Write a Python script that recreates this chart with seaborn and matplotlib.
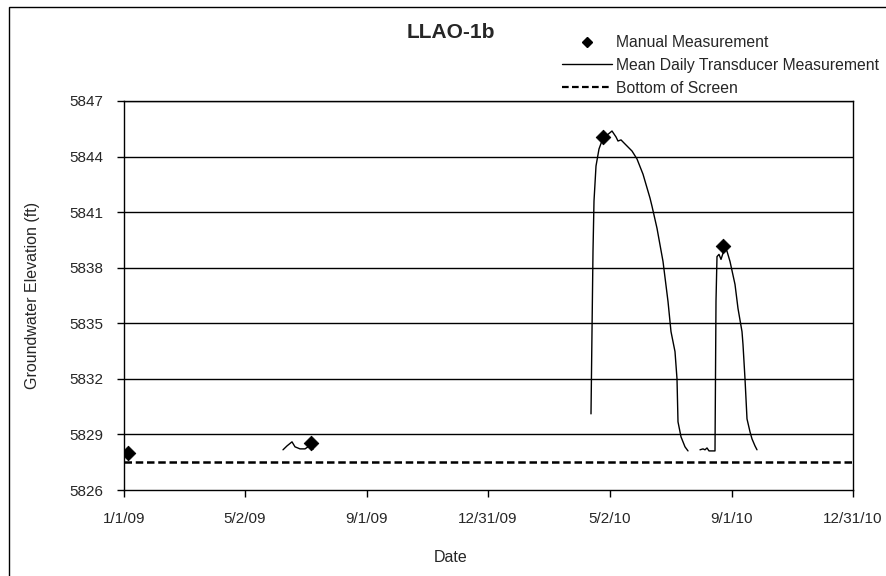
import matplotlib
matplotlib.use("Agg")
import matplotlib.pyplot as plt
import seaborn as sns
import pandas as pd
from matplotlib.lines import Line2D
from matplotlib.patches import Rectangle

# ---------------- data ----------------
manual_dates = ["2009-01-05", "2009-07-07", "2010-04-25", "2010-08-23"]
manual_vals = [5828.0, 5828.55, 5845.05, 5839.15]

seg1_dates = ["2009-06-09", "2009-06-13", "2009-06-18", "2009-06-21", "2009-06-26",
              "2009-07-01", "2009-07-04", "2009-07-07", "2009-07-09"]
seg1_vals = [5828.17, 5828.38, 5828.6, 5828.33, 5828.22, 5828.22, 5828.33, 5828.54, 5828.2]

seg2_dates = ["2010-04-13", "2010-04-14", "2010-04-15", "2010-04-16", "2010-04-18",
              "2010-04-21", "2010-04-25", "2010-04-30", "2010-05-04", "2010-05-08",
              "2010-05-10", "2010-05-13", "2010-05-17", "2010-05-24", "2010-05-29",
              "2010-06-04", "2010-06-11", "2010-06-13", "2010-06-18", "2010-06-24",
              "2010-06-29", "2010-07-02", "2010-07-06", "2010-07-08", "2010-07-09",
              "2010-07-12", "2010-07-16", "2010-07-19"]
seg2_vals = [5830.11, 5834.55, 5838.89, 5841.6, 5843.49, 5844.41, 5845.0, 5845.2,
             5845.38, 5845.06, 5844.84, 5844.9, 5844.68, 5844.3, 5843.87, 5843.05,
             5841.76, 5841.32, 5840.13, 5838.34, 5836.18, 5834.55, 5833.47, 5832.0,
             5829.68, 5828.87, 5828.33, 5828.11]

seg3_dates = ["2010-07-31", "2010-08-03", "2010-08-05", "2010-08-07", "2010-08-09",
              "2010-08-15", "2010-08-16", "2010-08-17", "2010-08-19", "2010-08-21",
              "2010-08-23", "2010-08-25", "2010-08-27", "2010-08-30", "2010-09-04",
              "2010-09-07", "2010-09-11", "2010-09-12", "2010-09-14", "2010-09-16",
              "2010-09-19", "2010-09-21", "2010-09-24", "2010-09-26"]
seg3_vals = [5828.17, 5828.22, 5828.17, 5828.27, 5828.11, 5828.11, 5836.2, 5838.6,
             5838.72, 5838.45, 5838.78, 5839.05, 5838.89, 5838.34, 5837.1, 5835.8,
             5834.55, 5833.85, 5832.0, 5829.84, 5829.14, 5828.76, 5828.38, 5828.17]

screen_dates = ["2009-01-01", "2010-12-31"]
screen_vals = [5827.5, 5827.5]

xtick_dates = ["2009-01-01", "2009-05-02", "2009-09-01", "2009-12-31",
               "2010-05-02", "2010-09-01", "2010-12-31"]
xtick_labels = ["1/1/09", "5/2/09", "9/1/09", "12/31/09", "5/2/10", "9/1/10", "12/31/10"]
yticks = [5826, 5829, 5832, 5835, 5838, 5841, 5844, 5847]

# ---------------- frames ----------------
trans = pd.concat([
    pd.DataFrame({"date": pd.to_datetime(seg1_dates), "elev": seg1_vals, "seg": 1}),
    pd.DataFrame({"date": pd.to_datetime(seg2_dates), "elev": seg2_vals, "seg": 2}),
    pd.DataFrame({"date": pd.to_datetime(seg3_dates), "elev": seg3_vals, "seg": 3}),
])
manual = pd.DataFrame({"date": pd.to_datetime(manual_dates), "elev": manual_vals})
screen = pd.DataFrame({"date": pd.to_datetime(screen_dates), "elev": screen_vals})

# ---------------- plot ----------------
sns.set_theme(style="white")
plt.rcParams["font.family"] = ["Liberation Sans", "DejaVu Sans"]

W, H = 886, 576
fig = plt.figure(figsize=(W / 100, H / 100), dpi=100)
ax = fig.add_axes([124 / W, 1 - 490 / H, (853 - 124) / W, (490 - 101) / H])

# outer chart border
fig.patches.append(Rectangle((9 / W, -0.05), 1.2, 1 - 7 / H + 0.05,
                             transform=fig.transFigure, fill=False,
                             edgecolor="black", linewidth=1.0, zorder=0))

for y in yticks[1:]:
    ax.axhline(y, color="black", linewidth=1.0, zorder=1)

sns.lineplot(data=screen, x="date", y="elev", ax=ax, color="black",
             linestyle=(0, (3, 1.5)), linewidth=1.8, zorder=2)
sns.lineplot(data=trans, x="date", y="elev", units="seg", estimator=None,
             ax=ax, color="black", linewidth=1.0, zorder=3)
sns.scatterplot(data=manual, x="date", y="elev", ax=ax, marker="D", s=55,
                color="black", edgecolor="black", zorder=4)

ax.set_xlim(pd.Timestamp("2009-01-01"), pd.Timestamp("2010-12-31"))
ax.set_ylim(5826, 5847)
ax.set_yticks(yticks)
ax.set_yticklabels([str(v) for v in yticks], fontsize=11)
ax.set_xticks(pd.to_datetime(xtick_dates))
ax.set_xticklabels(xtick_labels, fontsize=11)
ax.tick_params(axis="both", direction="out", length=5, width=1, color="black",
               bottom=True, left=True)
ax.tick_params(axis="y", pad=10)
ax.tick_params(axis="x", pad=11)
for s in ax.spines.values():
    s.set_color("black")
    s.set_linewidth(1.0)

ax.set_xlabel("Date", fontsize=11.5)
ax.set_ylabel("Groundwater Elevation (ft)", fontsize=11.5)
ax.xaxis.set_label_coords((451 - 124) / (853 - 124), -(558 - 490) / (490 - 101))
ax.yaxis.set_label_coords(-(124 - 32) / (853 - 124), 0.5)
ax.xaxis.label.set_va("center")
ax.yaxis.label.set_va("center")

fig.text(451 / W, 1 - 33 / H, "LLAO-1b", fontsize=15, fontweight="bold",
         ha="center", va="center")

handles = [
    Line2D([], [], color="black", marker="D", linestyle="none", markersize=5.5),
    Line2D([], [], color="black", linewidth=1.0),
    Line2D([], [], color="black", linewidth=1.6, linestyle=(0, (3, 1.5))),
]
labels = ["Manual Measurement", "Mean Daily Transducer Measurement", "Bottom of Screen"]
fig.legend(handles, labels, loc="upper left", bbox_to_anchor=(562 / W, 1 - 35 / H),
           frameon=False, fontsize=11.3, handlelength=3.2, handletextpad=0.25,
           labelspacing=0.5, borderpad=0, borderaxespad=0)

fig.savefig("out.png", dpi=100)
